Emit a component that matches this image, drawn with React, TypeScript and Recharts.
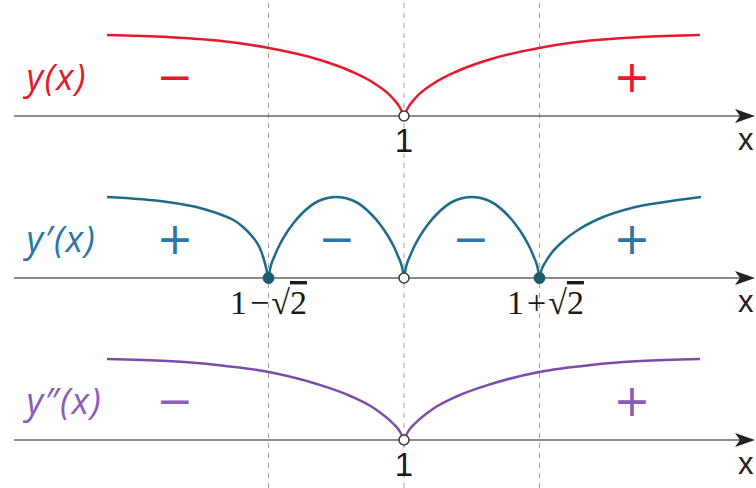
import React from 'react';
import { ComposedChart, Line, XAxis, YAxis, ReferenceLine, ReferenceDot } from 'recharts';

// ─── Data ─────────────────────────────────────────────────────────────────────

// critical points on the x axis
const ROOT_LO = 1 - Math.SQRT2;
const ROOT_MID = 1;
const ROOT_HI = 1 + Math.SQRT2;
const criticalX = [ROOT_LO, ROOT_MID, ROOT_HI];

// y(x): two branches meeting at x = 1
const yLeftX = [-2.1, -1.47, -0.95, -0.41, 0.09, 0.44, 0.7, 0.88, 0.96, 1];
const yLeftV = [81, 79, 75.5, 68, 57, 45, 32, 18, 8, 0];
const yRightX = [1, 1.04, 1.12, 1.3, 1.56, 1.91, 2.41, 2.95, 3.47, 4.09];
const yRightV = [0, 8, 18, 32, 45, 57, 68, 75.5, 79, 81];

// y'(x): left branch, two arches, right branch
const d1LeftX = [-2.1, -1.47, -1.13, -0.9, -0.78, -0.68, -0.58, -0.51, -0.47, ROOT_LO];
const d1LeftV = [81, 76, 70, 63, 58, 51, 41, 31, 21, 0];
const d1Arch1X = [ROOT_LO, -0.393, -0.351, -0.31, -0.247, -0.153, -0.07, 0.108, 0.293, 0.478, 0.656, 0.739, 0.833, 0.896, 0.937, 0.979, 1];
const d1Arch1V = [0, 11, 22, 31, 42, 55, 64, 77, 81, 77, 64, 55, 42, 31, 22, 11, 0];
const d1Arch2X = [1, 1.021, 1.063, 1.104, 1.167, 1.261, 1.344, 1.522, 1.707, 1.892, 2.07, 2.153, 2.247, 2.31, 2.351, 2.393, ROOT_HI];
const d1Arch2V = [0, 11, 22, 31, 42, 55, 64, 77, 81, 77, 64, 55, 42, 31, 22, 11, 0];
const d1RightX = [ROOT_HI, 2.435, 2.477, 2.54, 2.675, 2.832, 3.03, 3.375, 3.72, 4.1];
const d1RightV = [0, 8, 16, 25, 38, 49, 59, 70, 76, 81];

// y''(x): two branches meeting at x = 1
const d2LeftX = [-2.1, -1.47, -0.95, -0.41, 0.09, 0.44, 0.7, 0.88, 0.96, 1];
const d2LeftV = [81, 79, 75, 68, 56, 44, 31, 17, 8, 0];
const d2RightX = [1, 1.04, 1.12, 1.3, 1.56, 1.91, 2.41, 2.95, 3.47, 4.09];
const d2RightV = [0, 8, 17, 31, 44, 56, 68, 75, 79, 81];

// sign labels per panel
const ySignX = [-1.39, 3.38];
const ySigns = ['−', '+'];
const d1SignX = [-1.39, 0.3, 1.7, 3.38];
const d1Signs = ['+', '−', '−', '+'];
const d2SignX = [-1.39, 3.38];
const d2Signs = ['−', '+'];

// ─── Layout ───────────────────────────────────────────────────────────────────

const W = 756;
const H = 488;
const PX_PER_UNIT = 95.8;
const X_MIN = 1 - 404 / PX_PER_UNIT;
const X_MAX = X_MIN + W / PX_PER_UNIT;
const AXIS_START = -3.07;
const AXIS_TIP = X_MAX - 1 / PX_PER_UNIT;

const RED = '#e6192c';
const BLUE = '#1f6c8a';
const BLUE_TEXT = '#2a76a6';
const PURPLE = '#7b4ca8';
const PURPLE_TEXT = '#8a5cbc';
const INK = '#1a1a1a';

const panels = [
  { id: 'y', base: 116, color: RED, text: RED, name: 'y(x)', signX: ySignX, signs: ySigns },
  { id: 'd1', base: 278, color: BLUE, text: BLUE_TEXT, name: 'y′(x)', signX: d1SignX, signs: d1Signs },
  { id: 'd2', base: 440, color: PURPLE, text: PURPLE_TEXT, name: 'y″(x)', signX: d2SignX, signs: d2Signs },
];

const toRows = (xs: number[], vs: number[]) => xs.map((x, i) => ({ x, v: vs[i] }));

const curves = [
  { key: 'yL', axis: 'y', color: RED, data: toRows(yLeftX, yLeftV) },
  { key: 'yR', axis: 'y', color: RED, data: toRows(yRightX, yRightV) },
  { key: 'd1L', axis: 'd1', color: BLUE, data: toRows(d1LeftX, d1LeftV) },
  { key: 'd1A', axis: 'd1', color: BLUE, data: toRows(d1Arch1X, d1Arch1V) },
  { key: 'd1B', axis: 'd1', color: BLUE, data: toRows(d1Arch2X, d1Arch2V) },
  { key: 'd1R', axis: 'd1', color: BLUE, data: toRows(d1RightX, d1RightV) },
  { key: 'd2L', axis: 'd2', color: PURPLE, data: toRows(d2LeftX, d2LeftV) },
  { key: 'd2R', axis: 'd2', color: PURPLE, data: toRows(d2RightX, d2RightV) },
];

// ─── Small shapes ─────────────────────────────────────────────────────────────

function Word(props: any) {
  const { cx, cy, text, color, size, anchor = 'middle', family, italic, dy = 0, dx = 0, spacing = 0 } = props;
  return (
    <text
      x={cx + dx}
      y={cy + dy}
      fill={color}
      fontSize={size}
      fontFamily={family}
      fontStyle={italic ? 'italic' : 'normal'}
      letterSpacing={spacing}
      textAnchor={anchor}
    >
      {text}
    </text>
  );
}

// "1 ± √2" drawn in a serif face, with the vinculum over the 2
function Radical(props: any) {
  const { cx, cy, sign, dx = 0 } = props;
  return (
    <text x={cx + dx} y={cy} fill={INK} fontSize={34} fontFamily="'Liberation Serif', serif" textAnchor="middle">
      <tspan>1</tspan>
      <tspan dx={3}>{sign}</tspan>
      <tspan dx={2}>√</tspan>
      <tspan style={{ textDecoration: 'overline' }}>2</tspan>
    </text>
  );
}

function Arrow(props: any) {
  const { cx, cy } = props;
  return (
    <g>
      <path d={`M${cx},${cy} L${cx - 20},${cy - 7} L${cx - 15},${cy} L${cx - 20},${cy + 7} Z`} fill="#222" />
      <text x={cx - 17} y={cy + 34} fontSize={31} fill="#222" fontFamily="'Liberation Sans', Arial, sans-serif">
        x
      </text>
    </g>
  );
}

// ─── Component ────────────────────────────────────────────────────────────────

export default function App() {
  return (
    <div style={{ position: 'absolute', left: 0, top: 0, width: W, height: H, background: '#fff' }}>
      <ComposedChart width={W} height={H} margin={{ top: 0, right: 0, bottom: 0, left: 0 }}>
        <XAxis type="number" dataKey="x" domain={[X_MIN, X_MAX]} allowDataOverflow hide />
        {panels.map((p) => (
          <YAxis key={p.id} yAxisId={p.id} type="number" domain={[p.base - H, p.base]} allowDataOverflow hide />
        ))}

        {criticalX.map((x) => (
          <ReferenceLine key={x} x={x} yAxisId="y" stroke="#a0a0a0" strokeWidth={1} strokeDasharray="5 5" />
        ))}

        {panels.map((p) => (
          <ReferenceLine
            key={`axis-${p.id}`}
            yAxisId={p.id}
            segment={[{ x: AXIS_START, y: 0 }, { x: AXIS_TIP - 0.1, y: 0 }]}
            stroke="#666"
            strokeWidth={1.5}
          />
        ))}

        {curves.map((c) => (
          <Line
            key={c.key}
            data={c.data}
            dataKey="v"
            yAxisId={c.axis}
            type="monotone"
            stroke={c.color}
            strokeWidth={2.5}
            dot={false}
            activeDot={false}
            isAnimationActive={false}
          />
        ))}

        {panels.map((p) => (
          <ReferenceDot key={`arrow-${p.id}`} yAxisId={p.id} x={AXIS_TIP} y={0} r={0} shape={(s: any) => <Arrow {...s} />} />
        ))}

        {panels.map((p) => (
          <ReferenceDot
            key={`name-${p.id}`}
            yAxisId={p.id}
            x={-2.94}
            y={26}
            r={0}
            shape={(s: any) => (
              <Word
                {...s}
                text={p.name}
                color={p.text}
                size={36}
                spacing={1.5}
                anchor="start"
                family="'Open Sans', sans-serif"
                italic
              />
            )}
          />
        ))}

        {panels.map((p) =>
          p.signX.map((x, i) => (
            <ReferenceDot
              key={`sign-${p.id}-${i}`}
              yAxisId={p.id}
              x={x}
              y={38}
              r={0}
              shape={(s: any) => (
                <Word {...s} text={p.signs[i]} color={p.text} size={44} dy={14} family="'DejaVu Sans', sans-serif" />
              )}
            />
          )),
        )}

        {['y', 'd2'].map((id) => (
          <ReferenceDot
            key={`one-${id}`}
            yAxisId={id}
            x={ROOT_MID}
            y={-36}
            r={0}
            shape={(s: any) => <Word {...s} text="1" color={INK} size={33} family="'Liberation Sans', Arial, sans-serif" />}
          />
        ))}
        <ReferenceDot yAxisId="d1" x={ROOT_LO} y={-36} r={0} shape={(s: any) => <Radical {...s} sign="−" />} />
        <ReferenceDot yAxisId="d1" x={ROOT_HI} y={-36} r={0} shape={(s: any) => <Radical {...s} sign="+" dx={6} />} />

        {panels.map((p) => (
          <ReferenceDot key={`hole-${p.id}`} yAxisId={p.id} x={ROOT_MID} y={0} r={5} fill="#fff" stroke="#3a3a3a" strokeWidth={1.5} />
        ))}
        <ReferenceDot yAxisId="d1" x={ROOT_LO} y={0} r={5.5} fill="#1d5c6e" stroke="#1d5c6e" />
        <ReferenceDot yAxisId="d1" x={ROOT_HI} y={0} r={5.5} fill="#1d5c6e" stroke="#1d5c6e" />
      </ComposedChart>
    </div>
  );
}
